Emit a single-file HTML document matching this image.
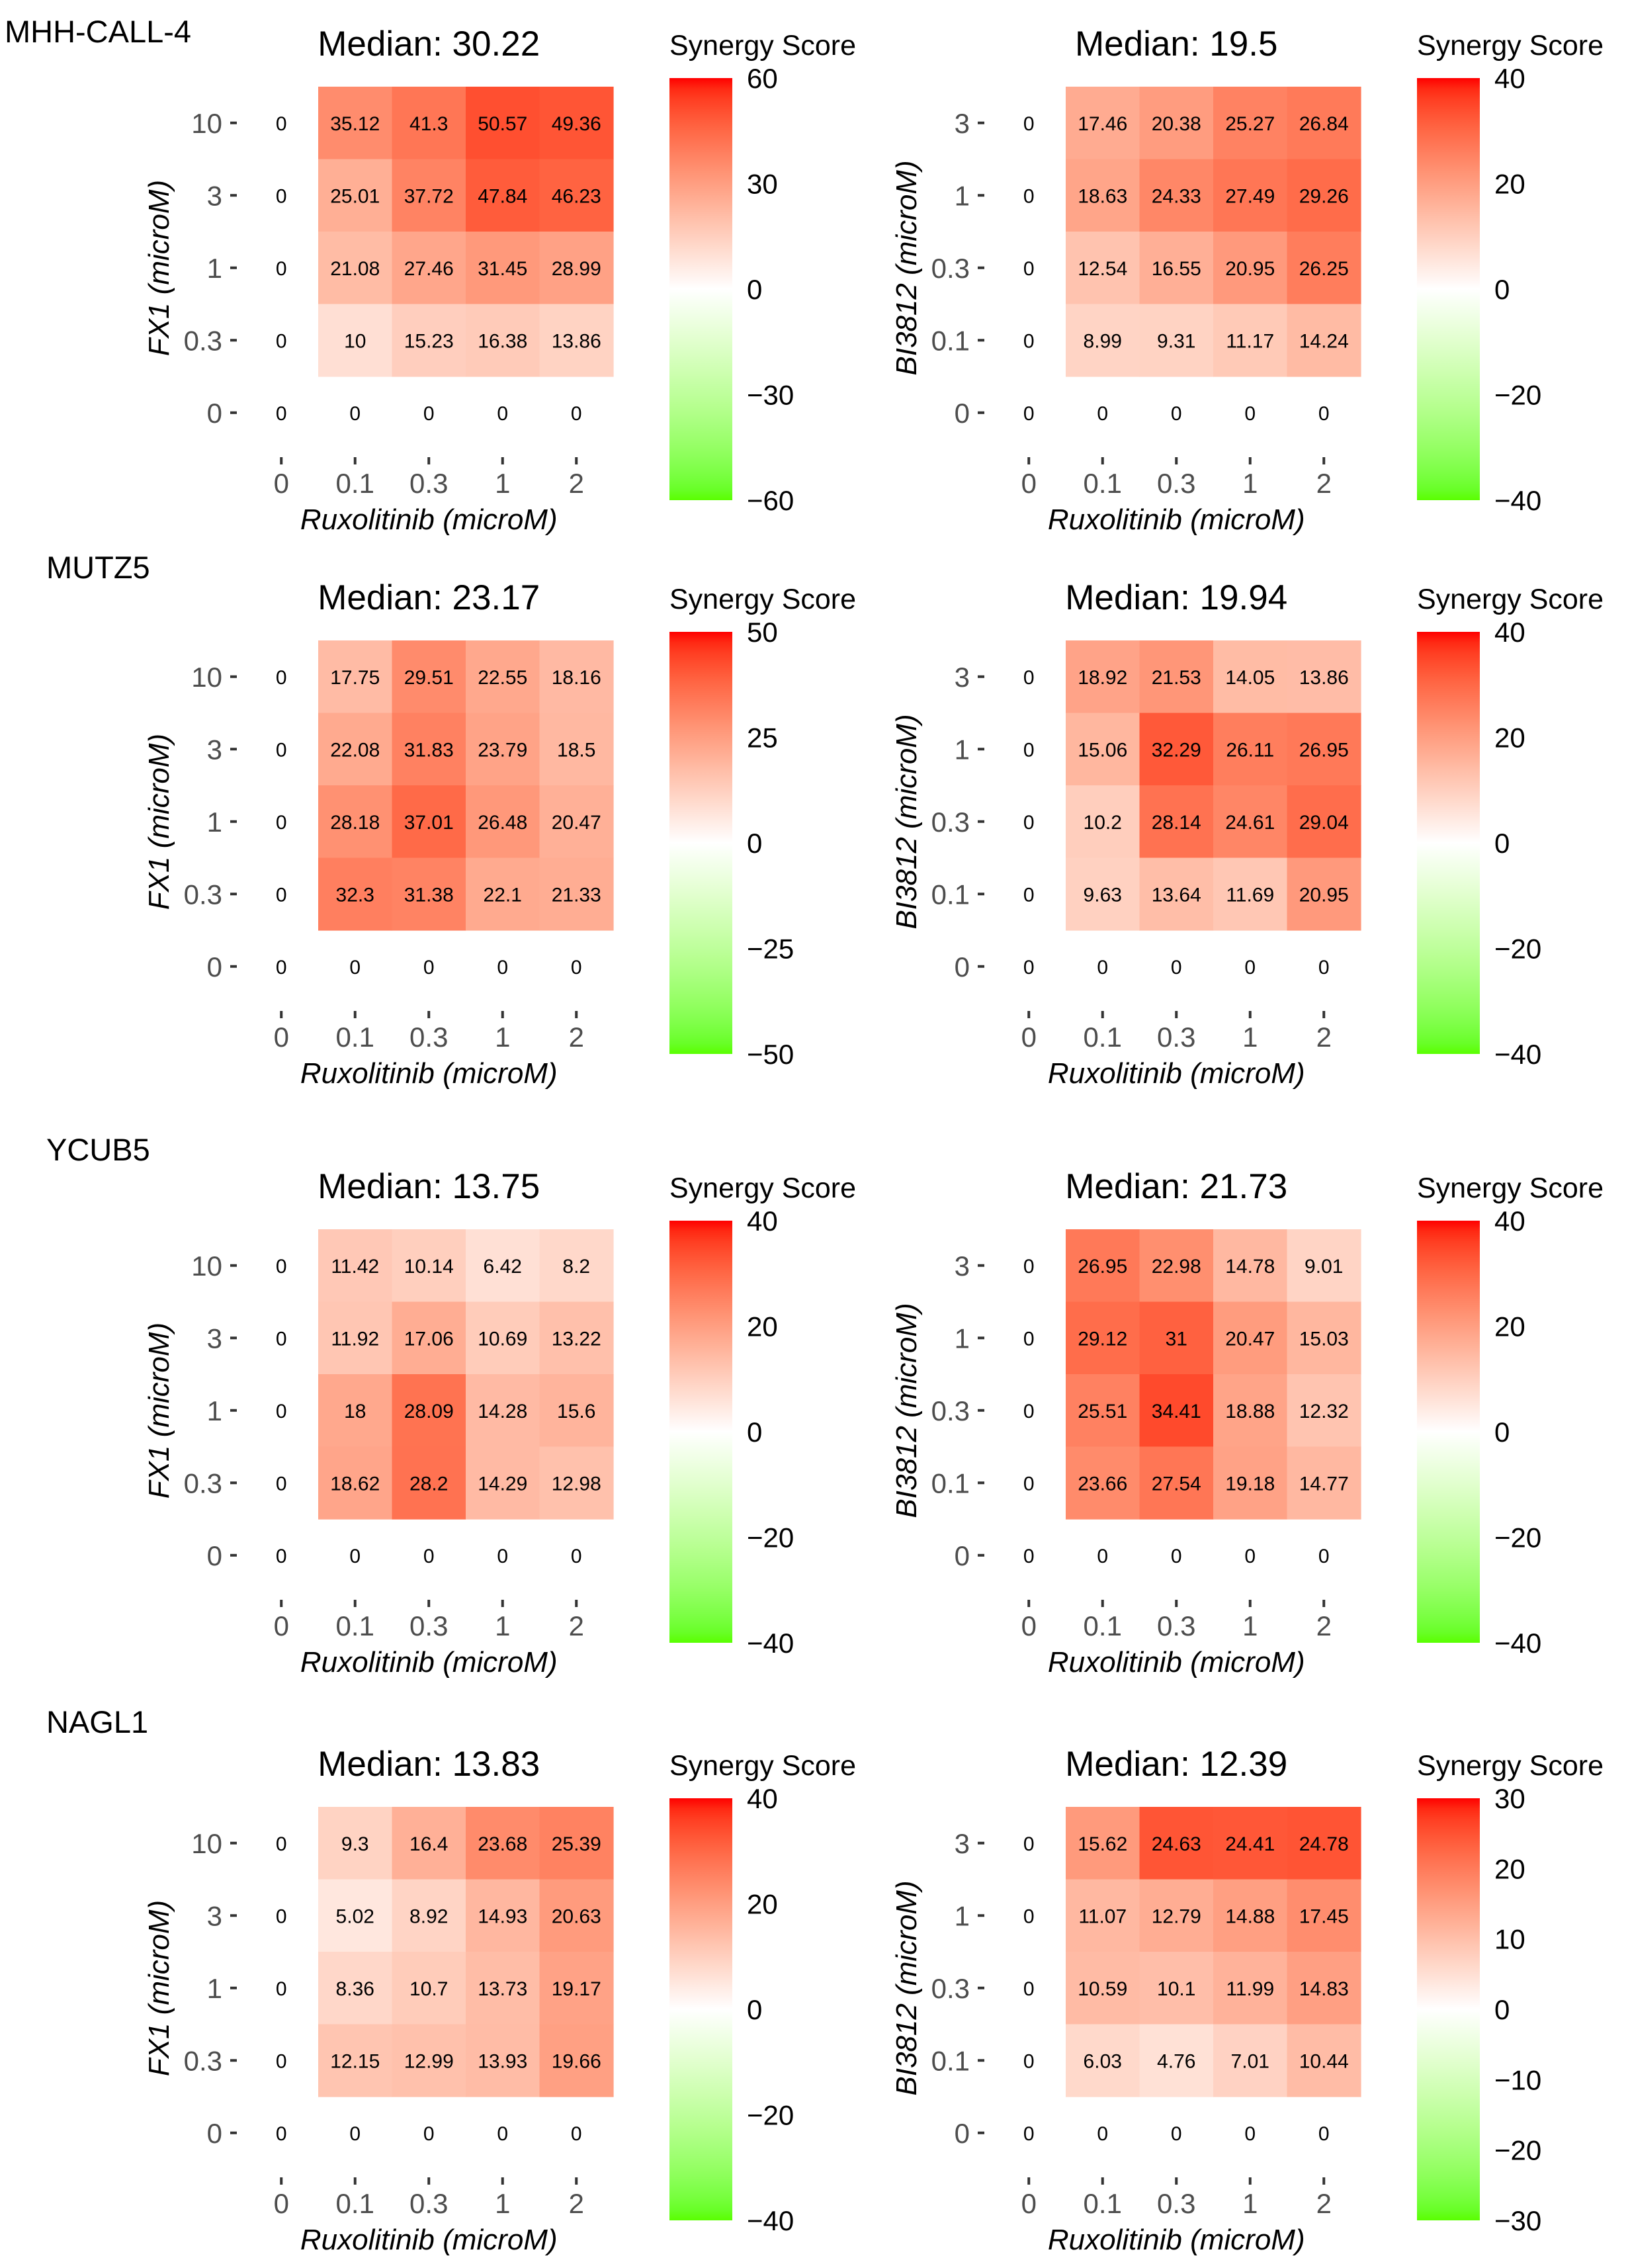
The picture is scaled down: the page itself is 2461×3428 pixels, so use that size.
<!DOCTYPE html>
<html><head><meta charset="utf-8">
<style>
html,body{margin:0;padding:0;background:#fff;}
svg{display:block;font-family:"Liberation Sans",Arial,sans-serif;}
</style></head>
<body>
<svg id="chart" width="2461" height="3428" viewBox="0 0 2461 3428" xmlns="http://www.w3.org/2000/svg">
<defs id="defs"></defs>
</svg>
<script>
// ---- data ----
const xCategories = ["0","0.1","0.3","1","2"];
const yCatFX1 = ["0.3","1","3","10"];
const yCatBI = ["0.1","0.3","1","3"];
const cellLines = ["MHH-CALL-4","MUTZ5","YCUB5","NAGL1"];
const cellLineLabelY = [30,840,1720,2585];
// values rows listed top (highest dose) to bottom
const fx1Values = [
 [[35.12,41.3,50.57,49.36],[25.01,37.72,47.84,46.23],[21.08,27.46,31.45,28.99],[10,15.23,16.38,13.86]],
 [[17.75,29.51,22.55,18.16],[22.08,31.83,23.79,18.5],[28.18,37.01,26.48,20.47],[32.3,31.38,22.1,21.33]],
 [[11.42,10.14,6.42,8.2],[11.92,17.06,10.69,13.22],[18,28.09,14.28,15.6],[18.62,28.2,14.29,12.98]],
 [[9.3,16.4,23.68,25.39],[5.02,8.92,14.93,20.63],[8.36,10.7,13.73,19.17],[12.15,12.99,13.93,19.66]]
];
const biValues = [
 [[17.46,20.38,25.27,26.84],[18.63,24.33,27.49,29.26],[12.54,16.55,20.95,26.25],[8.99,9.31,11.17,14.24]],
 [[18.92,21.53,14.05,13.86],[15.06,32.29,26.11,26.95],[10.2,28.14,24.61,29.04],[9.63,13.64,11.69,20.95]],
 [[26.95,22.98,14.78,9.01],[29.12,31,20.47,15.03],[25.51,34.41,18.88,12.32],[23.66,27.54,19.18,14.77]],
 [[15.62,24.63,24.41,24.78],[11.07,12.79,14.88,17.45],[10.59,10.1,11.99,14.83],[6.03,4.76,7.01,10.44]]
];
const fx1Medians = ["30.22","23.17","13.75","13.83"];
const biMedians = ["19.5","19.94","21.73","12.39"];
const fx1Limits = [60,50,40,40];
const biLimits = [40,40,40,30];
const fx1LegendTicks = [[60,30,0,-30,-60],[50,25,0,-25,-50],[40,20,0,-20,-40],[40,20,0,-20,-40]];
const biLegendTicks = [[40,20,0,-20,-40],[40,20,0,-20,-40],[40,20,0,-20,-40],[30,20,10,0,-10,-20,-30]];

// ---- colour (Lab interpolation) ----
function lin(c){c/=255;return c<=0.04045?c/12.92:Math.pow((c+0.055)/1.055,2.4);}
function unlin(c){c=c<=0.0031308?12.92*c:1.055*Math.pow(c,1/2.4)-0.055;return Math.max(0,Math.min(255,Math.round(c*255)));}
function toLab(r,g,b){r=lin(r);g=lin(g);b=lin(b);
 let x=(0.4124*r+0.3576*g+0.1805*b)/0.95047,y=(0.2126*r+0.7152*g+0.0722*b),z=(0.0193*r+0.1192*g+0.9505*b)/1.08883;
 const f=t=>t>0.008856?Math.cbrt(t):7.787*t+16/116;x=f(x);y=f(y);z=f(z);
 return [116*y-16,500*(x-y),200*(y-z)];}
function fromLab(L,a,b){let y=(L+16)/116,x=a/500+y,z=y-b/200;
 const fi=t=>t*t*t>0.008856?t*t*t:(t-16/116)/7.787;x=fi(x)*0.95047;y=fi(y);z=fi(z)*1.08883;
 const r=3.2406*x-1.5372*y-0.4986*z,g=-0.9689*x+1.8758*y+0.0415*z,bb=0.0557*x-0.2040*y+1.0570*z;
 return "rgb("+unlin(r)+","+unlin(g)+","+unlin(bb)+")";}
const LW=toLab(255,255,255),LR=toLab(255,0,0),LG=toLab(90,255,0);
function colorFor(v,lim){let t=Math.max(-1,Math.min(1,v/lim));const e=t>=0?LR:LG;t=Math.abs(t);
 return fromLab(LW[0]+(e[0]-LW[0])*t,LW[1]+(e[1]-LW[1])*t,LW[2]+(e[2]-LW[2])*t);}

// ---- drawing ----
const NS="http://www.w3.org/2000/svg";
const svg=document.getElementById('chart');
const defs=document.getElementById('defs');
function mk(tag,attrs,parent){const e=document.createElementNS(NS,tag);for(const k in attrs)e.setAttribute(k,attrs[k]);(parent||svg).appendChild(e);return e;}
const panelTops=[131,968,1858,2731];
const CW=111.5,CH=109.5;

// gradients
function gradient(id){const g=mk('linearGradient',{id:id,x1:0,y1:1,x2:0,y2:0},defs);
 for(let i=0;i<=40;i++){const t=i/40*2-1;mk('stop',{offset:(i/40),'stop-color':colorFor(t,1)},g);}}
gradient('gscale');

function panel(p,side){
 const top=panelTops[p], heatLeft=side===0?481:1611, off=side===0?0:1130;
 const vals=side===0?fx1Values[p]:biValues[p];
 const lim=side===0?fx1Limits[p]:biLimits[p];
 const yc=side===0?yCatFX1:yCatBI;
 const g=mk('g',{});
 
 
 const x0=heatLeft-CW; // column 0 left edge
 const xc=i=>x0+CW*(i+0.5);
 const yr=r=>top+CH*(r+0.5); // r=0 top row ... r=4 zero row
 // title
 const t=mk('text',{x:(x0+heatLeft+4*CW)/2,y:top-47,'font-size':53,'text-anchor':'middle',fill:'#000'},g);
 t.textContent='Median: '+(side===0?fx1Medians[p]:biMedians[p]);
 
 
 // cells
 for(let r=0;r<4;r++)for(let c=0;c<4;c++){
  const v=vals[r][c];
  const rc=mk('rect',{x:heatLeft+c*CW,y:top+r*CH,width:CW+0.6,height:CH+0.6,fill:colorFor(v,lim)},g);
  
  
 }
 for(let r=0;r<4;r++)for(let c=0;c<4;c++){
  const tx=mk('text',{x:xc(c+1),y:yr(r)+11,'font-size':30,'text-anchor':'middle',fill:'#000'},g);
  tx.textContent=String(vals[r][c]);
  
  
 }
 // zero column / row values
 for(let r=0;r<5;r++){const z=mk('text',{x:xc(0),y:yr(r)+11,'font-size':30,'text-anchor':'middle'},g);z.textContent='0';
  
  }
 for(let c=1;c<5;c++){const z=mk('text',{x:xc(c),y:yr(4)+11,'font-size':30,'text-anchor':'middle'},g);z.textContent='0';
  
  }
 // y ticks
 const yLabels=[yc[3],yc[2],yc[1],yc[0],'0'];
 for(let r=0;r<5;r++){
  mk('rect',{x:348+off,y:yr(r)-2,width:10,height:4,fill:'#333'},g);
  const l=mk('text',{x:336+off,y:yr(r)+15,'font-size':42,'text-anchor':'end',fill:'#4d4d4d'},g);
  l.textContent=yLabels[r];
  
  
 }
 // x ticks
 for(let c=0;c<5;c++){
  mk('rect',{x:xc(c)-2,y:top+560,width:4,height:11,fill:'#333'},g);
  const l=mk('text',{x:xc(c),y:top+614,'font-size':42,'text-anchor':'middle',fill:'#4d4d4d'},g);
  l.textContent=xCategories[c];
  
  
 }
 const xt=mk('text',{x:(x0+heatLeft+4*CW)/2,y:top+669,'font-size':44,'font-style':'italic','text-anchor':'middle'},g);
 xt.textContent='Ruxolitinib (microM)';
 
 
 const yt=mk('text',{x:0,y:0,'font-size':44,'font-style':'italic','text-anchor':'middle',transform:'translate('+(255+off)+','+(top+274)+') rotate(-90)'},g);
 yt.textContent=side===0?'FX1 (microM)':'BI3812 (microM)';
 
 
 // legend
 const lg=mk('g',{},g);
 
 
 const lt=mk('text',{x:1012+off,y:top-48,'font-size':43},lg);
 lt.textContent='Synergy Score';
 
 
 const bTop=top-13,bBot=top+625;
 const bar=mk('rect',{x:1012+off,y:bTop,width:95,height:bBot-bTop,fill:'url(#gscale)'},lg);
 
 
 const ticks=side===0?fx1LegendTicks[p]:biLegendTicks[p];
 for(const tv of ticks){
  const yy=bTop+(lim-tv)/(2*lim)*(bBot-bTop);
  const l=mk('text',{x:1129+off,y:yy+15,'font-size':42},lg);
  l.textContent=tv<0?'\u2212'+Math.abs(tv):String(tv);
  
  
 }
}
for(let p=0;p<4;p++){panel(p,0);panel(p,1);
 const cl=mk('text',{x:p===0?7:70,y:cellLineLabelY[p]+34,'font-size':47});
 cl.textContent=cellLines[p];
 
 
}
</script>
</body></html>
